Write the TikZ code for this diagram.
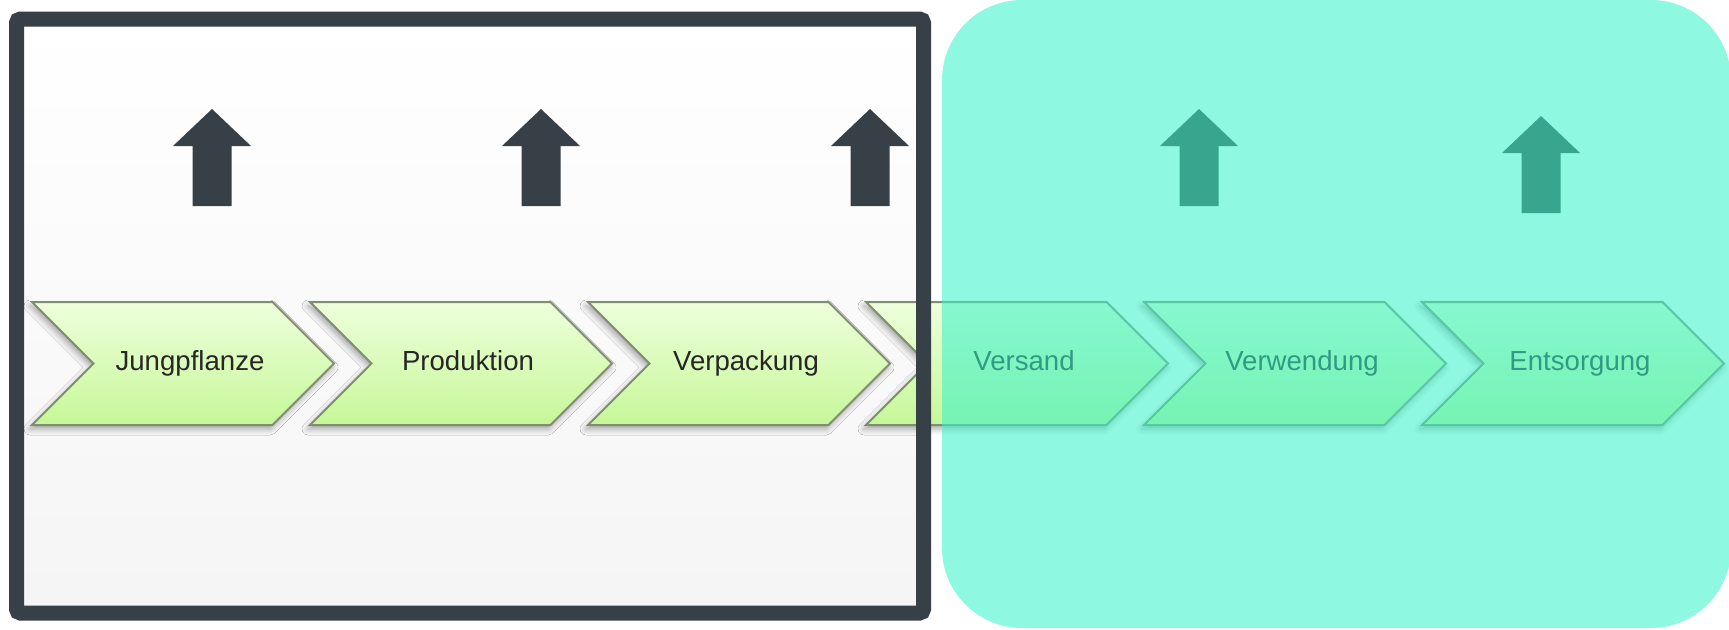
\documentclass[tikz,border=0pt]{standalone}
\usepackage{fontspec}
\setmainfont{Liberation Sans}
\usetikzlibrary{shapes.symbols,shadows.blur}
\definecolor{slate}{RGB}{54,64,70}
\definecolor{chevtop}{RGB}{238,255,220}
\definecolor{chevbot}{RGB}{198,247,152}
\definecolor{chevline}{RGB}{128,142,112}
\definecolor{aqua}{RGB}{58,242,200}

\begin{document}
\begin{tikzpicture}[x=0.5pt,y=0.5pt,chev/.style={shape=signal,signal to=east,signal from=west,signal pointer angle=90,minimum width=151pt,minimum height=61.5pt,inner sep=0pt,text height=10pt,text depth=3pt,draw=chevline,line width=1pt,top color=chevtop,bottom color=chevbot,blur shadow={shadow xshift=-1pt,shadow yshift=-2pt,shadow blur radius=3pt,shadow opacity=35},font=\fontsize{13.8}{16}\selectfont,text=black!85},uparr/.style={fill=slate},sysframe/.style={draw=slate,line width=7.5pt,rounded corners=2pt},tealpane/.style={fill=aqua,fill opacity=.57,rounded corners=40pt}]
\useasboundingbox (0,0) rectangle (1729,629);
% backdrop inside the frame
\fill[top color=white,middle color=white,bottom color=black!4] (16.5,16) rectangle (923.5,610);
% value chain
\foreach \i/\t in {1/Jungpflanze,2/Produktion,3/Verpackung,4/Versand,5/Verwendung,6/Entsorgung}
  \node[chev] (c\i) at ({183+278*(\i-1)},265.5) {\hspace*{7pt}\t};
% block arrows above the chain
\foreach \x/\y in {212/520,541/520,870/520,1199/520,1541/513}
  \fill[uparr] (\x,\y) -- ++(39,-37) -- ++(-19.5,0) -- ++(0,-60) -- ++(-39,0) -- ++(0,60) -- ++(-19.5,0) -- cycle;
\draw[sysframe] (16.5,16) rectangle (923.5,610);
\fill[tealpane] (942,1) rectangle (1731,629);
\end{tikzpicture}
\end{document}
